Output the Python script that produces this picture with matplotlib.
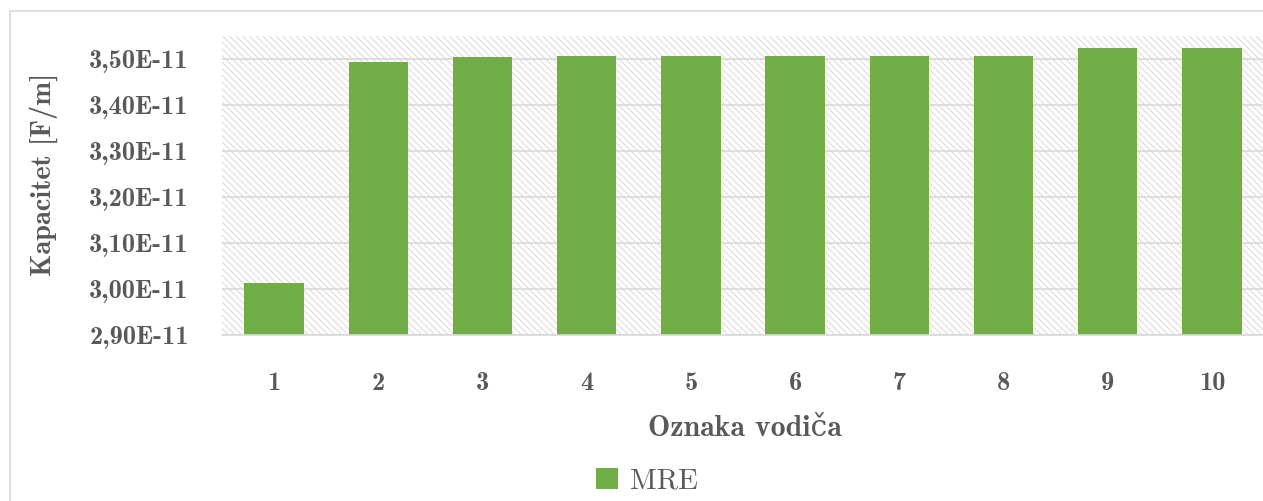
import matplotlib
matplotlib.use('Agg')
import matplotlib.pyplot as plt
from matplotlib.patches import Rectangle
from matplotlib.ticker import FuncFormatter, FixedLocator
import numpy as np

# capacitance per conductor [F/m]
conductors = ['1', '2', '3', '4', '5', '6', '7', '8', '9', '10']
capacitance = [3.013e-11, 3.4935e-11, 3.504e-11, 3.5065e-11, 3.5065e-11,
               3.5065e-11, 3.5065e-11, 3.5065e-11, 3.525e-11, 3.524e-11]
series_name = 'MRE'
y_ticks = [2.9e-11, 3.0e-11, 3.1e-11, 3.2e-11, 3.3e-11, 3.4e-11, 3.5e-11]

green = '#70AD47'
text_gray = '#595959'
grid_gray = '#D9D9D9'

bold_font = ['cmb10', 'DejaVu Serif']
reg_font = ['cmr10', 'DejaVu Serif']

plt.rcParams['hatch.linewidth'] = 0.6

fig = plt.figure(figsize=(12.63, 5.01), dpi=100)

# outer chart frame
fig.patches.append(Rectangle((9.5 / 1263, -0.1), 1.2, 1 - 10.5 / 501 + 0.1,
                             transform=fig.transFigure, facecolor='none',
                             edgecolor=grid_gray, linewidth=1.2))

ax = fig.add_axes([222 / 1263, 1 - 335 / 501, 1042 / 1263, 299 / 501])

# hatched plot area
ax.add_patch(Rectangle((0, 0), 1, 1, transform=ax.transAxes, facecolor='white',
                       edgecolor='#d2d2d2', linewidth=0, hatch='\\\\\\\\\\', zorder=0))

x = np.arange(len(conductors))
ax.bar(x, capacitance, width=0.57, color=green, zorder=3, label=series_name)

ax.set_xlim(-0.5, len(conductors) - 0.5)
ax.set_ylim(2.9e-11, 3.55e-11)
ax.yaxis.set_major_locator(FixedLocator(y_ticks))
ax.yaxis.set_major_formatter(
    FuncFormatter(lambda v, p: ('%.2f' % (v / 1e-11)).replace('.', ',') + 'E-11'))
ax.set_xticks(x)
ax.set_xticklabels(conductors)

ax.grid(axis='y', color=grid_gray, linewidth=1.2, zorder=1)
ax.set_axisbelow(True)
for s in ['top', 'left', 'right']:
    ax.spines[s].set_visible(False)
ax.spines['bottom'].set_color(grid_gray)
ax.spines['bottom'].set_linewidth(1.2)
ax.spines['bottom'].set_zorder(4)

ax.tick_params(axis='both', length=0, colors=text_gray, labelsize=19)
ax.tick_params(axis='y', pad=24)
ax.tick_params(axis='x', pad=27)
for lbl in ax.get_xticklabels() + ax.get_yticklabels():
    lbl.set_family(bold_font)

fig.text(44 / 1263, 1 - 174 / 501, 'Kapacitet [F/m]', rotation=90,
         ha='center', va='center', fontsize=20.5, color=text_gray, family=bold_font)
fig.text(745 / 1263, 1 - 428 / 501, 'Oznaka vodiča', ha='center', va='center',
         fontsize=21.5, color=text_gray, family=bold_font)

leg = fig.legend(loc='center', bbox_to_anchor=(647 / 1263, 1 - 481 / 501),
                 frameon=False, handlelength=0.75, handleheight=0.75,
                 handletextpad=0.4, prop={'family': reg_font, 'size': 21})
for t in leg.get_texts():
    t.set_color(text_gray)

fig.savefig('out.png', dpi=100)
